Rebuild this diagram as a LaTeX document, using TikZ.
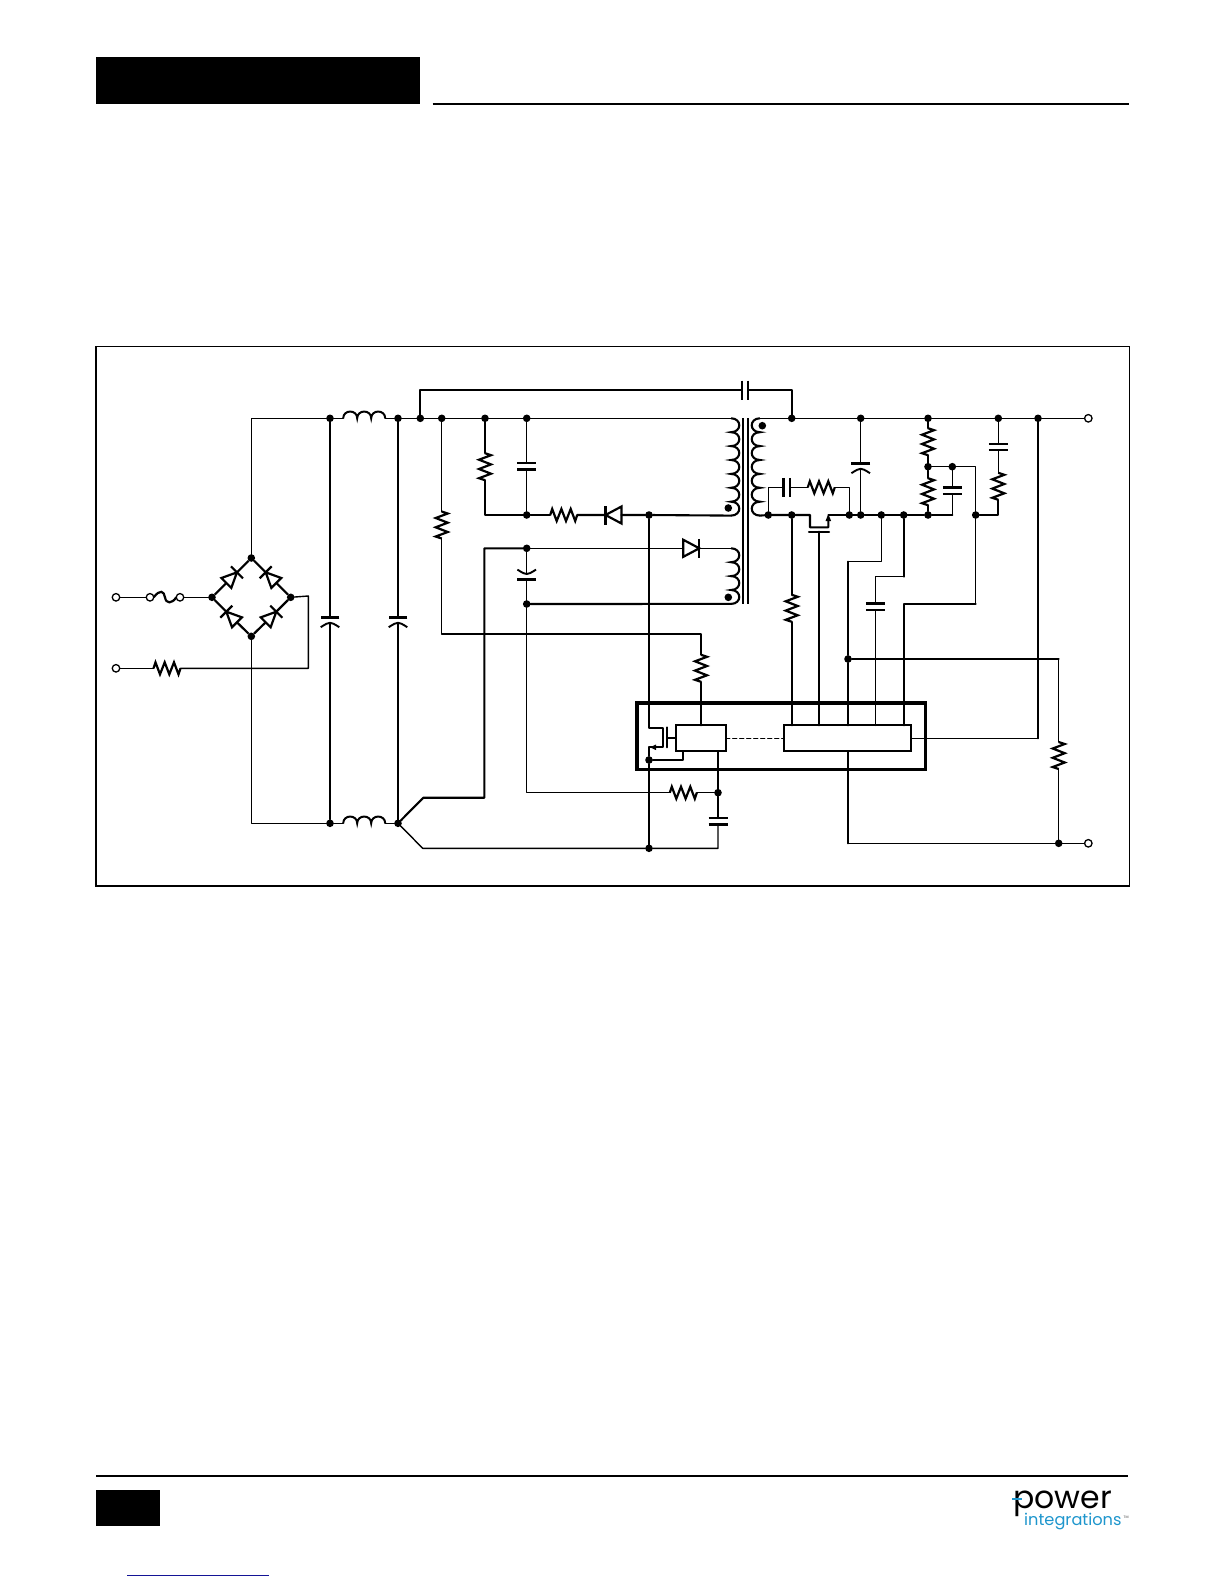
\documentclass[tikz,border=0pt]{standalone}
\usepackage{fontspec}
\newfontfamily\logofont{Poppins}
\definecolor{logoblue}{RGB}{30,150,205}
\definecolor{linkblue}{RGB}{20,20,150}
\tikzset{
  wire/.style={line width=1.4pt,line cap=round,line join=round},
  bus/.style={line width=2.1pt,line cap=round,line join=round},
  sym/.style={line width=2.2pt,line join=miter},
  jn/.style={circle,fill=black,draw=none,inner sep=0pt,outer sep=0pt,minimum size=7.6pt},
  tm/.style={circle,fill=white,draw=black,line width=1.3pt,inner sep=0pt,outer sep=0pt,minimum size=7.5pt},
  blk/.style={draw=black,fill=white,line width=1.7pt,inner sep=0pt,outer sep=0pt},
  res/.pic={
    \draw[sym] (-13.5,0) -- (-11.5,-6) -- (-7,6) -- (-2.3,-6) -- (2.3,6) -- (7,-6) -- (11.5,6) -- (13.5,0);
    \coordinate (-a) at (-13.5,0); \coordinate (-b) at (13.5,0);
  },
  capsym/.pic={
    \draw[line width=2.3pt] (-3.2,-9.5) -- (-3.2,9.5) (3.2,-9.5) -- (3.2,9.5);
    \coordinate (-a) at (-3.2,0); \coordinate (-b) at (3.2,0);
  },
  polcap/.pic={
    \draw[line width=2.3pt] (-2.6,-9.3) -- (-2.6,9.3);
    \draw[line width=1.9pt] (7.2,-9.3) .. controls (3.8,-4) and (2.8,-2) .. (2.8,0) .. controls (2.8,2) and (3.8,4) .. (7.2,9.3);
    \coordinate (-a) at (-2.6,0); \coordinate (-b) at (2.8,0);
  },
  diode/.pic={
    \draw[sym] (-8,-8.5) -- (8,0) -- (-8,8.5) -- cycle;
    \draw[sym] (8,-9.5) -- (8,9.5);
    \coordinate (-a) at (-8,0); \coordinate (-b) at (8,0);
  },
  bdiode/.pic={
    \draw[sym] (-7.5,-7) -- (7.5,0) -- (-7.5,7) -- cycle;
    \draw[sym] (7.5,-8.5) -- (7.5,8.5);
    \coordinate (-a) at (-7.5,0); \coordinate (-b) at (7.5,0);
  },
  indsym/.pic={
    \draw[line width=2pt] (-21,0) .. controls +(0,-9) and +(0,-9) .. ++(14,0)
       .. controls +(0,-9) and +(0,-9) .. ++(14,0)
       .. controls +(0,-9) and +(0,-9) .. ++(14,0);
    \coordinate (-a) at (-21,0); \coordinate (-b) at (21,0);
  }
}
\begin{document}
\begin{tikzpicture}[x=1pt,y=-1pt]
\useasboundingbox (0,0) rectangle (1224,1584);
\fill[white] (0,0) rectangle (1224,1584);
% page furniture
\fill[black] (96,57) rectangle (420,104);
\draw[line width=2.1pt] (432.5,104) -- (1128.5,104);
\draw[line width=1.8pt] (96,346.5) rectangle (1129.5,886);
\draw[line width=2pt] (96,1475.7) -- (1127.7,1475.7);
\fill[black] (96,1490) rectangle (160,1526);
\draw[linkblue,line width=1pt] (127,1575) -- (269,1575);
% logo
\node[anchor=base west,inner sep=0pt,font=\logofont\fontsize{31.5}{33}\selectfont] (lpower) at (1013,1508) {power};
\draw[logoblue,line width=2.2pt] (1012,1499) -- (1022,1499);
\node[anchor=base west,inner sep=0pt,text=logoblue,font=\logofont\fontsize{16.2}{18}\selectfont] (lint) at (1024,1525) {integrations};
\node[anchor=base west,inner sep=0pt,text=black!70,font=\logofont\fontsize{3.5}{4}\selectfont] (ltm) at (1123.5,1518) {TM};

% junctions
\foreach \n/\x/\y in {
  jl/212/597.3, jt/251.3/558, jr/290.7/597.3, jb/251.3/636.3,
  a1/330/418.3, a2/398/418.3, a3/420.3/418.3, a4/441.7/418.3, a5/485/418.3, a6/526.7/418.3,
  b1/330/823.3, b2/398/823.3,
  c1/526.7/515, c2/649/515, c3/526.7/548.3, c4/526.7/604,
  d1/791.7/418.3, d2/860.7/418.3, d3/928/418.3, d4/998.3/418.3, d5/1038/418.3,
  e1/768.3/515, e2/791.7/515, e3/849.3/515, e4/860.7/515, e5/881.3/515, e6/903.7/515, e7/928/515, e8/975.7/515,
  f1/928/466.7, f2/952.3/466.7,
  g1/848/659, g2/1058.7/843.3,
  h1/649/760, h2/718/792.7, h3/649/848.3,
  dp/728.3/508, da/728.3/597.3, ds/762.3/425.7}
  {\node[jn] (\n) at (\x,\y) {};}
% terminals
\foreach \n/\x/\y in {t1/116/597.3, t2/116/668.3, f3/150/597.3, f4/180/597.3, t3/1088.3/418.3, t4/1088.3/843.3}
  {\node[tm] (\n) at (\x,\y) {};}

% components
\pic (ind1) at (364.2,418.3) {indsym};
\pic (ind2) at (364.2,823.3) {indsym};
\pic (r1) at (167,668.3) {res};
\pic[rotate=90] (r2) at (485,466.7) {res};
\pic[rotate=90] (r3) at (441.7,525) {res};
\pic (r4) at (563.7,515) {res};
\pic[rotate=90] (r5) at (701,668.3) {res};
\pic (r6) at (683.3,792.7) {res};
\pic[rotate=90] (r7) at (791.7,608.3) {res};
\pic (r8) at (821.3,487.3) {res};
\pic[rotate=90] (r9) at (928,441.7) {res};
\pic[rotate=90] (r10) at (928,491.7) {res};
\pic[rotate=90] (r11) at (998.3,486.3) {res};
\pic[rotate=90] (r12) at (1058.7,755.5) {res};

\pic (c1p) at (745,390) {capsym};
\pic[rotate=90] (c2p) at (526.7,466.3) {capsym};
\pic[rotate=90] (c3p) at (718,821.2) {capsym};
\pic (c4p) at (786.7,487.3) {capsym};
\pic[rotate=90] (c5p) at (875.3,606.7) {capsym};
\pic[rotate=90] (c6p) at (952.3,490.8) {capsym};
\pic[rotate=90] (c7p) at (998.3,447) {capsym};
\pic[rotate=-90] (p1) at (330,620) {polcap};
\pic[rotate=-90] (p2) at (398,620) {polcap};
\pic[rotate=90] (p3) at (526.7,576.8) {polcap};
\pic[rotate=-90] (p4) at (860.7,466) {polcap};

\pic[rotate=180] (d1p) at (613.5,515) {diode};
\pic (d2p) at (691.3,548.3) {diode};
\pic[rotate=45] (b1p) at (231.65,577.65) {bdiode};
\pic[rotate=135] (b2p) at (271,577.65) {bdiode};
\pic[rotate=135] (b3p) at (231.65,617) {bdiode};
\pic[rotate=45] (b4p) at (271,617) {bdiode};

% transformer
\coordinate (pt) at (731,418.3);
\draw[line width=2.1pt] (pt) \foreach \i in {1,...,7} { .. controls +(11,0) and +(11,0) .. ++(0,13.9) } coordinate (pb);
\coordinate (at) at (731,548.3);
\draw[line width=2.1pt] (at) \foreach \i in {1,...,4} { .. controls +(11,0) and +(11,0) .. ++(0,13.9) } coordinate (ab);
\coordinate (st) at (760,418.3);
\draw[line width=2.1pt] (st) \foreach \i in {1,...,7} { .. controls +(-11,0) and +(-11,0) .. ++(0,13.9) } coordinate (sb);
\draw[line width=2pt] (742.7,418.3) -- (742.7,604) (748,418.3) -- (748,604);

% IC
\draw[line width=3.6pt,line join=miter] (636.7,702.7) rectangle (925.3,769.3);
\node[blk,minimum width=50pt,minimum height=26pt] (u1) at (700.7,738.3) {};
\node[blk,minimum width=127.6pt,minimum height=26pt] (u2) at (847.5,738.3) {};
\draw[wire,dashed,dash pattern=on 4pt off 3pt] (u1.east) -- (u2.west);

% input
\draw[wire] (t1) -- (f3);
\draw[sym] (f3.east) .. controls (160,589) and (164,591) .. (165,597.3) .. controls (166,604) and (172,604) .. (f4.west);
\draw[wire] (f4) -- (jl);
\draw[wire] (t2) -- (r1-a);
\draw[wire] (r1-b) -| (308.3,596) -- (jr);
\draw[sym] (jl) -- (b1p-a) (b1p-b) -- (jt) (jr) -- (b2p-a) (b2p-b) -- (jt)
           (jb) -- (b3p-a) (b3p-b) -- (jl) (jb) -- (b4p-a) (b4p-b) -- (jr);
\draw[wire] (jt) |- (a1);
\draw[wire] (jb) |- (b1);
\draw[wire] (a1) -- (ind1-a) (ind1-b) -- (a2) -- (a3) -- (a4) -- (a5) -- (a6) -- (pt);
\draw[wire] (b1) -- (ind2-a) (ind2-b) -- (b2);
\draw[wire] (a1) -- (p1-a) (p1-b) -- (b1);
\draw[bus] (a2) -- (p2-a) (p2-b) -- (b2);

% top capacitor
\draw[bus] (a3) |- (c1p-a);
\draw[bus] (c1p-b) -| (d1);

% primary snubber
\draw[bus] (a5) -- (r2-b) (r2-a) |- (c1);
\draw[wire] (a6) -- (c2p-b) (c2p-a) -- (c1);
\draw[bus] (c1) -- (r4-a);
\draw[bus] (r4-b) -- (d1p-b) (d1p-a) -- (c2) -- (pb);
\draw[bus] (h1) -- (h3);

% bias
\draw[wire] (c3) -- (d2p-a) (d2p-b) -- (at);
\draw[bus] (c4) -- (ab);
\draw[wire] (c3) -- (p3-b) (p3-a) -- (c4);
\draw[wire] (c4) |- (r6-a);
\draw[bus] (c3) -| (484.3,797.7) -- (423.3,797.7) -- (b2);
\draw[wire] (b2) -- (422.7,848.3) -- (h3) -| (c3p-a);
\draw[wire] (r6-b) -- (h2);
\draw[bus] (h2) -- (c3p-b);
\draw[bus] (h2) -- (718,751.3);

% startup resistor
\draw[wire] (a4) -- (r3-b);
\draw[wire] (r3-a) |- (701,634) -- (r5-b);
\draw[bus] (r5-a) -- (701,725.3);

% primary switch
\draw[bus] (c2) -- (649,728) -- (663,728) -- (663,747.3) -- (654,747.3);
\draw[bus] (h1) -- (649,747.3) -- (654,747.3);
\fill (650,747.3) -- (656,744.5) -- (656,750.1) -- cycle;
\draw[bus] (667.3,727.3) -- (667.3,747.3);
\draw[bus] (667.3,738.3) -- (u1.west);
\draw[bus] (h1) -- (683.3,760) -- (683.3,751.3);

% secondary
\draw[wire] (st) -- (d1) -- (d2) -- (d3) -- (d4) -- (d5) -- (t3);
\draw[bus] (sb) -- (e1) -- (e2) -- (810,515) -- (810,527.3) -- (828.3,527.3) -- (828.3,520);
\fill (828.3,514) -- (825.5,521) -- (831.1,521) -- cycle;
\draw[bus] (828.3,515) -- (e3) -- (e4) -- (e5) -- (e6) -- (e7) -- (952.3,515);
\draw[bus] (809,531.7) -- (829,531.7);
\draw[bus] (819,531.7) -- (819,725.3);
\draw[wire] (e1) |- (c4p-a);
\draw[wire] (c4p-b) -- (r8-a);
\draw[wire] (r8-b) -| (e3);
\draw[bus] (e2) -- (r7-b) (r7-a) -- (791.7,725.3);
\draw[wire] (d2) -- (p4-a) (p4-b) -- (e4);
\draw[bus] (d3) -- (r9-b) (r9-a) -- (f1) -- (r10-b);
\draw[bus] (r10-a) -- (e7);
\draw[wire] (f1) -- (f2) -- (975.7,466.7) -- (e8);
\draw[wire] (f2) -- (c6p-b) (c6p-a) -- (952.3,515);
\draw[wire] (d4) -- (c7p-b) (c7p-a) -- (r11-b);
\draw[bus] (r11-a) |- (e8);
\draw[wire] (e8) -- (975.7,604);
\draw[bus] (975.7,604) -- (904,604) -- (904,725.3);
\draw[wire] (e5) -- (881.3,561.7) -- (848,561.7);
\draw[bus] (848,561.7) -- (g1) -- (848,725.3);
\draw[bus] (e6) -- (903.7,576.7);
\draw[wire] (903.7,576.7) -- (875.3,576.7) -- (c5p-b) (c5p-a) -- (875.3,725.3);
\draw[bus] (g1) -- (1058.7,659);
\draw[wire] (1058.7,659) -- (r12-b) (r12-a) -- (g2);
\draw[bus] (848,751.3) -- (848,843.3);
\draw[wire] (848,843.3) -- (g2) -- (t4);
\draw[bus] (d5) -- (1038,738.3);
\draw[wire] (1038,738.3) -- (u2.east);
\end{tikzpicture}
\end{document}
